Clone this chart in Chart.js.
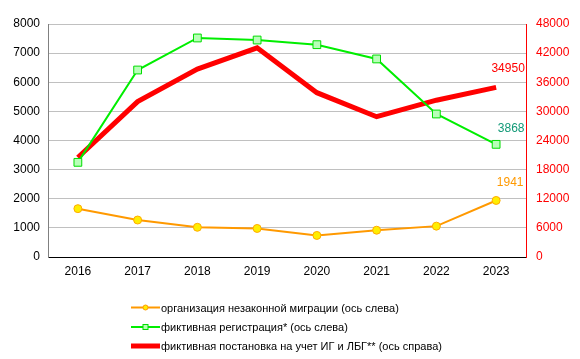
<!DOCTYPE html>
<html><head><meta charset="utf-8">
<script src="https://cdn.jsdelivr.net/npm/chart.js@4/dist/chart.umd.min.js"></script>
<style>html,body{margin:0;padding:0;background:#fff}#wrap{width:580px;height:359px;position:relative}</style>
</head><body><div id="wrap"><canvas id="c" width="580" height="359"></canvas></div>
<script>
const categories = ['2016','2017','2018','2019','2020','2021','2022','2023'];
const orgIllegal = [1660, 1270, 1020, 980, 740, 920, 1060, 1941];
const fakeRegistration = [3250, 6420, 7520, 7450, 7290, 6800, 4910, 3868];
const fakeStaying = [20500, 32000, 38700, 43100, 33850, 28900, 32300, 34950];
const seriesNames = ['организация незаконной миграции (ось слева)', 'фиктивная регистрация* (ось слева)', 'фиктивная постановка на учет ИГ и ЛБГ** (ось справа)'];
const lastLabels = ['1941', '3868', '34950'];
const labelColors = ['#ff9900', '#119977', '#ff0000'];

const FONT = '"Liberation Sans", Arial, sans-serif';

const extras = {
  id: 'extras',
  afterDatasetsDraw(chart) {
    const ctx = chart.ctx;
    ctx.save();
    ctx.font = '12px ' + FONT;
    ctx.textAlign = 'center';
    ctx.textBaseline = 'middle';
    const offs = [[14, -18], [15, -16], [12, -19]];
    [0,1,2].forEach(i => {
      const meta = chart.getDatasetMeta(i);
      const p = meta.data[meta.data.length - 1];
      ctx.fillStyle = labelColors[i];
      ctx.fillText(lastLabels[i], p.x + offs[i][0], p.y + offs[i][1]);
    });
    // legend
    const ds = chart.data.datasets;
    const ys = [307.5, 327, 346];
    ctx.textAlign = 'left';
    ctx.font = '11px ' + FONT;
    ds.forEach((d, i) => {
      const y = ys[i];
      ctx.strokeStyle = d.borderColor;
      ctx.lineWidth = i === 2 ? 5 : 2;
      ctx.beginPath(); ctx.moveTo(131, y); ctx.lineTo(160, y); ctx.stroke();
      if (i === 0) {
        ctx.fillStyle = '#ffee00'; ctx.strokeStyle = '#ff9900'; ctx.lineWidth = 1;
        ctx.beginPath(); ctx.arc(145.5, y, 2.5, 0, Math.PI*2); ctx.fill(); ctx.stroke();
      } else if (i === 1) {
        ctx.fillStyle = '#b8ffb8'; ctx.strokeStyle = '#00dd00'; ctx.lineWidth = 1;
        ctx.fillRect(143, y-2.5, 5, 5); ctx.strokeRect(143, y-2.5, 5, 5);
      }
      ctx.fillStyle = '#000';
      ctx.fillText(seriesNames[i], 161, y + 1);
    });
    ctx.restore();
  }
};

const plain = v => String(v);

new Chart(document.getElementById('c'), {
  type: 'line',
  data: {
    labels: categories,
    datasets: [
      { label: seriesNames[0], data: orgIllegal, yAxisID: 'yL', borderColor: '#ff9900', borderWidth: 2,
        pointRadius: 4, pointBackgroundColor: '#ffee00', pointBorderColor: '#ffaa00', pointBorderWidth: 1, tension: 0, order: 2 },
      { label: seriesNames[1], data: fakeRegistration, yAxisID: 'yL', borderColor: '#00ee00', borderWidth: 2,
        pointStyle: 'rect', pointRadius: 5.5, pointBackgroundColor: '#b8ffb8', pointBorderColor: '#00dd00', pointBorderWidth: 1, tension: 0, order: 0 },
      { label: seriesNames[2], data: fakeStaying, yAxisID: 'yR', borderColor: '#ff0000', borderWidth: 5,
        pointRadius: 0, tension: 0, order: 1, borderCapStyle: 'butt' }
    ]
  },
  options: {
    responsive: false, animation: false, devicePixelRatio: 1,
    layout: { padding: { top: 24, left: 0, right: 0, bottom: 0 } },
    plugins: { legend: { display: false }, tooltip: { enabled: false } },
    scales: {
      x: {
        offset: true,
        grid: { display: false, drawTicks: false },
        border: { color: '#000', width: 1 },
        ticks: { color: '#000', font: { family: FONT, size: 12 }, padding: 7 },
        afterFit(s) { s.height = 102; }
      },
      yL: {
        position: 'left', min: 0, max: 8000,
        ticks: { stepSize: 1000, color: '#000', font: { family: FONT, size: 12 }, padding: 8, callback: plain },
        grid: { color: '#c0c0c0', drawTicks: false },
        border: { color: '#808080', width: 1 },
        afterFit(s) { s.width = 48; }
      },
      yR: {
        position: 'right', min: 0, max: 48000,
        ticks: { stepSize: 6000, color: '#ff0000', font: { family: FONT, size: 12 }, padding: 10, callback: plain },
        grid: { display: false, drawTicks: false },
        border: { color: '#ff0000', width: 1 },
        afterFit(s) { s.width = 54; }
      }
    }
  },
  plugins: [extras]
});
</script></body></html>
